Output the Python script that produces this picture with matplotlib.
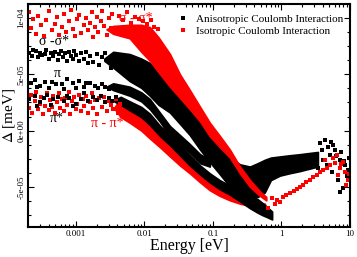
import numpy as np
import matplotlib
matplotlib.use('Agg')
import matplotlib.pyplot as plt
from matplotlib.ticker import FuncFormatter, MultipleLocator, LogLocator, NullFormatter

plt.rcParams['font.family'] = ['Liberation Serif', 'DejaVu Serif']
plt.rcParams['mathtext.fontset'] = 'stix'

# ---------------------------------------------------------------------------
# data (energy in eV, delta in units of 1e-5 meV)
scale = 1e-5

# isotropic sigma-sigma* band (dense part: upper / lower edge)
iso_ss_e = [0.0028, 0.0035, 0.0061, 0.009, 0.012, 0.016, 0.0236, 0.033, 0.046, 0.065, 0.090, 0.127,
            0.177, 0.248, 0.347, 0.485, 0.60]
iso_ss_top = [9.0, 9.3, 9.4, 9.4, 9.2, 8.3, 6.8, 5.0, 3.6, 2.1, 0.7, -0.5,
              -1.7, -3.2, -4.4, -5.4, -5.9]
iso_ss_bot = [9.0, 8.6, 8.2, 7.0, 6.2, 5.2, 3.9, 2.9, 1.9, 0.8, -0.5, -1.5,
              -2.4, -3.8, -5.0, -5.8, -6.2]
# isotropic sigma-sigma* sparse points at low energy
iso_ss_pts_e = [0.00021, 0.00022, 0.00024, 0.00026, 0.00028, 0.00031, 0.00034, 0.00037, 0.00041, 0.00045,
                0.00049, 0.00053, 0.00057, 0.00062, 0.00067, 0.00072, 0.00078, 0.00084, 0.0009, 0.00097,
                0.00105, 0.0011, 0.0012, 0.0013, 0.0014, 0.0015, 0.0016, 0.0017, 0.0018, 0.0019,
                0.002, 0.0021, 0.0023, 0.0024, 0.0026, 0.0028, 0.003, 0.0032, 0.0034, 0.0037,
                0.0042, 0.0048, 0.0055, 0.0063, 0.0072, 0.0082, 0.0095, 0.011, 0.0125, 0.014, 0.016]
iso_ss_pts_d = [10.5, 9.1, 9.9, 8.6, 10.2, 9.4, 8.4, 9.8, 10.6, 8.9,
                9.5, 10.1, 8.5, 9.2, 10.4, 8.8, 9.7, 10.7, 9.0, 8.4,
                9.9, 10.3, 8.7, 9.4, 10.0, 8.9, 9.6, 10.5, 8.3, 9.2,
                10.1, 8.8, 9.7, 10.6, 9.3, 8.5, 10.0, 9.1, 10.4, 8.7,
                10.2, 9.8, 10.5, 9.6, 10.1, 9.9, 9.7, 9.5, 9.8, 9.2, 9.0]

# isotropic pi-pi* band
iso_pp_e = [0.0036, 0.0045, 0.0061, 0.009, 0.012, 0.017, 0.0236, 0.033, 0.046, 0.065, 0.090, 0.125, 0.177,
            0.25, 0.347, 0.45, 0.574]
iso_pp_top = [2.0, 2.9, 2.5, 1.8, 1.0, 0.0, -0.9, -1.8, -2.7, -3.5, -4.3, -5.0, -5.5,
              -5.9, -6.2, -6.4, -6.5]
iso_pp_bot = [2.0, 1.2, 0.7, 0.0, -0.7, -1.5, -2.3, -3.1, -3.8, -4.6, -5.3, -5.8, -6.2,
              -6.5, -6.7, -6.9, -7.0]
iso_pp_pts_e = [0.00021, 0.00022, 0.00023, 0.00025, 0.00026, 0.00028, 0.0003, 0.00031, 0.00033, 0.00035,
                0.00038, 0.0004, 0.00042, 0.00045, 0.00047, 0.0005, 0.00053, 0.00056, 0.00059, 0.00063,
                0.00066, 0.0007, 0.00074, 0.00078, 0.00083, 0.00088, 0.00093, 0.00099, 0.00105, 0.0011,
                0.00118, 0.00125, 0.0013, 0.0014, 0.0015, 0.0016, 0.0017, 0.0018, 0.0019, 0.002,
                0.0022, 0.0024, 0.0026, 0.0028, 0.003, 0.0032, 0.0035, 0.0038, 0.0041, 0.0044]
iso_pp_pts_d = [2.0, 3.2, 1.6, 2.6, 3.4, 1.9, 2.4, 3.0, 1.5, 2.2,
                3.3, 1.8, 2.7, 2.1, 3.1, 1.6, 2.5, 3.3, 2.0, 2.8,
                1.7, 2.9, 2.3, 3.4, 1.5, 2.6, 3.0, 1.9, 2.4, 3.2,
                1.7, 2.8, 2.2, 3.1, 1.6, 2.5, 3.3, 2.0, 2.7, 1.5,
                2.9, 2.1, 3.0, 1.7, 2.6, 2.3, 1.9, 2.8, 1.6, 2.4]

# isotropic points above 0.6 eV
iso_hi_e = [0.64, 0.73, 0.80, 0.86, 0.95, 1.05, 1.15, 1.33, 1.5, 1.68, 1.85, 2.06, 2.3, 2.6, 2.9, 3.3, 3.6,
            4.0, 4.3, 4.6, 5.1, 5.6, 6.0, 6.4, 6.7, 7.1, 7.5, 7.9, 8.5, 8.7, 9.3, 9.7]
iso_hi_d = [-6.9, -5.98, -6.5, -6.16, -6.34, -5.89, -5.7, -5.54, -5.4, -5.18, -5.0, -4.82, -4.6, -4.38, -4.1,
            -3.93, -3.7, -3.48, -2.59, -3.3, -3.04, -2.41, -2.86, -2.2, -3.93, -3.30, -3.0, -2.77, -3.66,
            -4.82, -4.38, -3.9]

# anisotropic sigma-sigma* band
ani_ss_e = [0.0026, 0.0035, 0.0061, 0.009, 0.012, 0.016, 0.0236, 0.033, 0.046, 0.065, 0.090, 0.127, 0.177,
            0.248, 0.347, 0.45, 0.57, 0.7, 0.95, 1.3, 1.86, 2.5, 3.4]
ani_ss_top = [6.4, 7.0, 6.8, 6.4, 6.0, 5.2, 3.9, 3.0, 1.9, 0.8, -0.5, -1.5, -2.4,
              -3.0, -3.2, -2.9, -2.6, -2.4, -2.3, -2.2, -2.1, -2.0, -1.9]
ani_ss_bot = [6.2, 5.6, 4.4, 3.8, 3.1, 2.3, 1.6, 0.6, -0.4, -1.7, -2.8, -3.9, -5.0,
              -5.4, -5.8, -5.9, -5.5, -4.4, -4.0, -3.8, -3.6, -3.4, -3.2]
ani_ss_pts_e = [0.00021, 0.00023, 0.00024, 0.00026, 0.00028, 0.0003, 0.00032, 0.00035, 0.00037, 0.0004,
                0.00043, 0.00047, 0.0005, 0.00054, 0.00057, 0.00061, 0.00065, 0.0007, 0.00075, 0.0008,
                0.00085, 0.0009, 0.00095, 0.001, 0.0011, 0.0012, 0.0013, 0.0014, 0.0015, 0.0016,
                0.0018, 0.002, 0.0022, 0.0024, 0.0027, 0.003, 0.0033]
ani_ss_pts_d = [6.9, 6.6, 7.2, 7.1, 6.5, 6.9, 6.7, 6.8, 7.2, 6.4,
                6.9, 6.6, 7.0, 6.3, 6.8, 7.1, 6.5, 6.9, 6.2, 7.0,
                6.6, 6.4, 7.1, 6.7, 6.2, 6.9, 6.4, 7.0, 6.0, 6.6,
                6.1, 6.8, 5.8, 6.5, 6.9, 6.2, 5.6]

# anisotropic pi band
ani_p_e = [0.0028, 0.0035, 0.0061, 0.009, 0.012, 0.0168, 0.0236, 0.033, 0.046, 0.065, 0.090]
ani_p_top = [3.9, 4.2, 3.9, 3.4, 2.8, 1.6, 0.4, -0.4, -1.2, -2.1, -2.6]
ani_p_bot = [3.9, 3.6, 3.1, 2.6, 1.9, 0.8, -0.5, -1.2, -2.0, -2.9, -3.2]
ani_p_pts_e = [0.00022, 0.00025, 0.00027, 0.0003, 0.00035, 0.0004, 0.00045, 0.00052, 0.00062, 0.00068,
               0.00075, 0.0009, 0.001, 0.0011, 0.0013, 0.0014, 0.0016, 0.0019, 0.0021, 0.0024, 0.0027, 0.003]
ani_p_pts_d = [4.2, 4.5, 3.9, 4.0, 4.3, 3.8, 4.3, 4.1, 4.1, 3.7, 4.6, 4.2, 3.8, 4.4, 3.9, 4.2, 4.2, 4.0,
               3.8, 4.1, 3.9, 3.7]

# anisotropic pi* band
ani_ps_e = [0.0036, 0.0045, 0.0061, 0.009, 0.012, 0.017, 0.0236, 0.033, 0.046, 0.065, 0.090, 0.125, 0.177,
            0.25, 0.347, 0.45, 0.52, 0.62, 0.73]
ani_ps_top = [2.7, 3.0, 2.6, 2.1, 1.5, 0.4, -0.4, -1.3, -2.2, -3.1, -3.8, -4.4, -4.9,
              -5.3, -5.7, -6.1, -6.4, -6.8, -7.2]
ani_ps_bot = [2.6, 2.3, 1.8, 1.2, 0.5, -0.5, -1.3, -2.2, -3.1, -3.9, -4.6, -5.2, -5.7,
              -6.3, -6.9, -7.3, -7.5, -7.7, -7.9]
ani_ps_pts_e = [0.00021, 0.00025, 0.00027, 0.0003, 0.00034, 0.00038, 0.00043, 0.00047, 0.00055, 0.00068,
                0.00074, 0.0008, 0.0009, 0.001, 0.0012, 0.0013, 0.0015, 0.0018, 0.002, 0.0023, 0.0027,
                0.003, 0.0034, 0.0039]
ani_ps_pts_d = [2.8, 3.1, 2.2, 2.5, 2.9, 3.2, 2.3, 2.8, 3.0, 2.6,
                3.1, 2.9, 2.2, 2.4, 2.8, 3.3, 2.6, 3.0, 2.7, 3.1, 2.5, 2.9, 2.6, 3.0]

# anisotropic points above 2.5 eV
ani_hi_e = [2.79, 3.1, 3.4, 3.65, 3.9, 4.1, 4.3, 4.6, 4.8, 5.1, 5.3, 5.5, 5.6, 6.0, 6.3, 6.7, 7.1, 7.1, 7.5,
            7.9, 8.2, 8.5, 8.9, 9.3, 9.7]
ani_hi_d = [-2.59, -2.2, -3.30, -1.07, -1.70, -2.6, -0.80, -3.04, -1.43, -2.14, -1.0, -3.66, -1.25, -1.70,
            -2.3, -4.38, -2.59, -5.45, -1.9, -5.09, -2.7, -3.04, -4.0, -3.48, -2.4]
# ---------------------------------------------------------------------------

fig = plt.figure(figsize=(3.57, 2.57), dpi=100)
ax = fig.add_axes([28 / 357, 30 / 257, 322 / 357, 223 / 257])

ms = 2.3


def draw_band(e, top, bot, color):
    ax.fill_between(e, np.array(bot) * scale, np.array(top) * scale, color=color, lw=1.2,
                    edgecolor=color)


def draw_pts(e, d, color, label=None):
    ax.plot(e, np.array(d) * scale, 's', color=color, ms=ms, mew=0, label=label)


# anisotropic (black)
draw_band(ani_ss_e, ani_ss_top, ani_ss_bot, 'black')
draw_band(ani_p_e, ani_p_top, ani_p_bot, 'black')
draw_pts(ani_ss_pts_e, ani_ss_pts_d, 'black', 'Anisotropic Coulomb Interaction')
draw_pts(ani_p_pts_e, ani_p_pts_d, 'black')
draw_pts(ani_hi_e, ani_hi_d, 'black')

# isotropic (red)
draw_band(iso_ss_e, iso_ss_top, iso_ss_bot, 'red')
draw_band(iso_pp_e, iso_pp_top, iso_pp_bot, 'red')
draw_pts(iso_ss_pts_e, iso_ss_pts_d, 'red', 'Isotropic Coulomb Interaction')
draw_pts(iso_pp_pts_e, iso_pp_pts_d, 'red')
draw_pts(iso_hi_e, iso_hi_d, 'red')

# pi* anisotropic lies on the isotropic pi-pi* band
draw_band(ani_ps_e, ani_ps_top, ani_ps_bot, 'black')
draw_pts(ani_ps_pts_e, ani_ps_pts_d, 'black')

# band labels
lab_kw = dict(fontsize=10, ha='center', va='center', zorder=6)
ax.text(0.0075, 10.0e-5, 'σ - σ*', color='red', **lab_kw)
ax.text(0.00048, 7.95e-5, 'σ -σ*', color='black', **lab_kw)
ax.text(0.00054, 5.1e-5, 'π', color='black', **lab_kw)
ax.text(0.00053, 1.1e-5, 'π*', color='black', **lab_kw)
ax.text(0.0029, 0.63e-5, 'π - π*', color='red', **lab_kw)

ax.set_xscale('log')
ax.set_xlim(0.0002, 10)
ax.set_ylim(-8.57e-5, 11.25e-5)

ax.xaxis.set_major_locator(LogLocator(base=10, numticks=10))
ax.xaxis.set_minor_locator(LogLocator(base=10, subs=np.arange(2, 10), numticks=20))
ax.xaxis.set_minor_formatter(NullFormatter())
ax.xaxis.set_major_formatter(FuncFormatter(lambda v, p: '%g' % v))
ax.yaxis.set_major_locator(MultipleLocator(5e-5))
ax.yaxis.set_minor_locator(MultipleLocator(1.25e-5))
ax.yaxis.set_major_formatter(FuncFormatter(lambda v, p: '{:.0e}'.format(0 if abs(v) < 1e-12 else v)))

ax.tick_params(which='both', direction='in', top=True, right=True, labelsize=6.5, width=0.8, pad=2)
ax.tick_params(which='major', length=4)
ax.tick_params(which='minor', length=2)
for lab in ax.get_yticklabels():
    lab.set_rotation(90)
    lab.set_va('center')
for sp in ax.spines.values():
    sp.set_linewidth(1.5)

ax.set_xlabel('Energy [eV]', fontsize=11.5, labelpad=0)
ax.set_ylabel(r'$\Delta$ [meV]', fontsize=11, labelpad=0)

ax.legend(loc='upper right', bbox_to_anchor=(1.0, 0.985), frameon=False, fontsize=8,
          handlelength=0.8, handletextpad=0.8, borderaxespad=0.2, labelspacing=0.25, markerscale=1.0)

fig.savefig('out.png', dpi=100)
